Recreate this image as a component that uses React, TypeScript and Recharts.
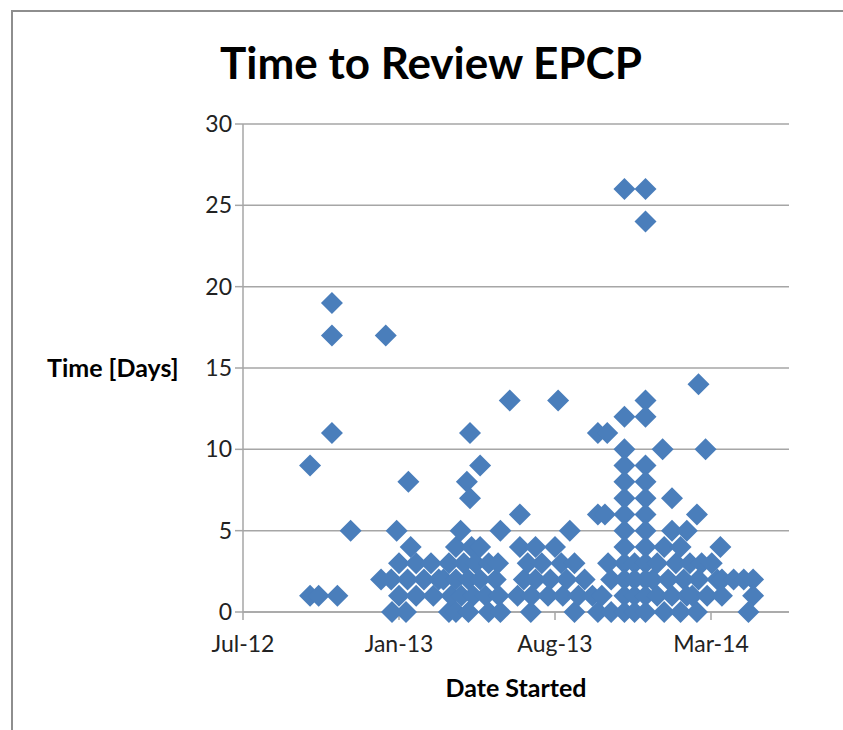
import { ScatterChart, Scatter, XAxis, YAxis, CartesianGrid } from "recharts";

// [date started as spreadsheet serial, days to review]
const late2012: [number, number][] = [
  [41186, 9], [41186, 1], [41197, 1], [41214, 19], [41214, 17], [41214, 11],
  [41221, 1], [41238, 5], [41283, 17], [41277, 2], [41290, 2], [41291, 0],
];

const early2013: [number, number][] = [
  [41297, 5], [41300, 3], [41300, 1], [41309, 0], [41311, 2], [41312, 8],
  [41315, 4], [41322, 3], [41322, 1], [41332, 2], [41341, 3], [41344, 1],
  [41351, 2], [41357, 2], [41364, 3], [41364, 0], [41367, 1], [41373, 4],
  [41373, 2], [41373, 0], [41379, 5], [41380, 1], [41383, 3], [41387, 8],
  [41389, 2], [41389, 0], [41391, 11], [41391, 7], [41393, 4], [41395, 1],
  [41398, 3], [41404, 9], [41404, 4], [41404, 2], [41411, 1], [41415, 3],
  [41415, 0], [41424, 2], [41427, 3], [41428, 1], [41430, 5], [41430, 0],
  [41442, 13],
];

const mid2013: [number, number][] = [
  [41452, 1], [41455, 6], [41455, 4], [41460, 2], [41465, 3], [41469, 0],
  [41470, 1], [41475, 4], [41475, 2], [41483, 3], [41491, 1], [41494, 2],
  [41500, 4], [41504, 13], [41508, 3], [41510, 1], [41515, 2], [41519, 5],
  [41525, 3], [41525, 0], [41530, 1], [41538, 2], [41548, 1], [41555, 11],
  [41555, 6], [41555, 0], [41560, 1], [41564, 6], [41567, 11], [41568, 3],
  [41572, 2], [41572, 0],
];

const late2013: [number, number][] = [
  [41589, 26], [41589, 12], [41589, 10], [41589, 9], [41589, 8], [41589, 7],
  [41589, 6], [41589, 5], [41589, 4], [41589, 3], [41589, 2], [41589, 1],
  [41589, 0], [41602, 3], [41602, 2], [41602, 1], [41602, 0], [41616, 26],
  [41616, 24], [41616, 13], [41616, 12], [41616, 9], [41616, 8], [41616, 7],
  [41616, 6], [41616, 5], [41616, 4], [41616, 3], [41616, 2], [41616, 1],
  [41616, 0], [41625, 2], [41631, 3], [41631, 1], [41638, 10], [41640, 4],
  [41640, 0], [41645, 2], [41650, 7], [41650, 5], [41650, 1], [41655, 3],
  [41661, 4], [41661, 0], [41665, 2], [41669, 5], [41669, 1], [41673, 3],
];

const early2014: [number, number][] = [
  [41676, 1], [41682, 6], [41682, 0], [41684, 14], [41684, 2], [41688, 3],
  [41693, 10], [41695, 1], [41701, 3], [41708, 2], [41712, 4], [41714, 2],
  [41714, 1], [41729, 2], [41742, 2], [41748, 0], [41754, 2], [41754, 1],
];

const dateTicks = [41100, 41300, 41500, 41700];
const dayTicks = [0, 5, 10, 15, 20, 25, 30];

const points = [...late2012, ...early2013, ...mid2013, ...late2013, ...early2014].map(
  ([started, days]) => ({ started, days })
);

const MONTHS = ["Jan", "Feb", "Mar", "Apr", "May", "Jun", "Jul", "Aug", "Sep", "Oct", "Nov", "Dec"];

function serialLabel(serial: number) {
  const d = new Date(Date.UTC(1899, 11, 30) + serial * 86400000);
  return `${MONTHS[d.getUTCMonth()]}-${String(d.getUTCFullYear()).slice(2)}`;
}

function Diamond(props: any) {
  const { cx, cy } = props;
  const r = 11;
  return (
    <path
      d={`M${cx},${cy - r}L${cx + r},${cy}L${cx},${cy + r}L${cx - r},${cy}Z`}
      fill="#4a7ebb"
    />
  );
}

const FONT = "Lato, 'Open Sans', sans-serif";
const GRID = "#a6a6a6";

export default function App() {
  return (
    <div
      style={{
        position: "absolute",
        left: 0,
        top: 0,
        width: 843,
        height: 730,
        background: "#fff",
        fontFamily: FONT,
        overflow: "hidden",
      }}
    >
      <div
        style={{
          position: "absolute",
          left: 11,
          top: 10,
          right: -4,
          bottom: -4,
          borderTop: "2px solid #8e8e8e",
          borderLeft: "2px solid #8e8e8e",
        }}
      />
      <div
        style={{
          position: "absolute",
          left: 0,
          top: 40,
          width: 862,
          textAlign: "center",
          fontSize: 44,
          fontWeight: 700,
          lineHeight: 1,
          color: "#000",
          whiteSpace: "nowrap",
        }}
      >
        Time to Review EPCP
      </div>
      <div style={{ position: "absolute", left: 0, top: 0 }}>
        <ScatterChart width={843} height={730} margin={{ top: 124, right: 54, bottom: 18, left: 0 }}>
          <CartesianGrid vertical={false} stroke={GRID} strokeWidth={1.5} />
          <XAxis
            type="number"
            dataKey="started"
            domain={[41100, 41800]}
            ticks={dateTicks}
            tickFormatter={serialLabel}
            height={100}
            stroke={GRID}
            strokeWidth={1.5}
            tickSize={8}
            tickMargin={16}
            tick={{ fill: "#222", fontSize: 23, fontFamily: FONT }}
            label={{
              value: "Date Started",
              position: "insideBottom",
              offset: 15,
              fill: "#000",
              fontSize: 25,
              fontWeight: 700,
              fontFamily: FONT,
            }}
          />
          <YAxis
            type="number"
            dataKey="days"
            domain={[0, 30]}
            ticks={dayTicks}
            width={243}
            stroke={GRID}
            strokeWidth={1.5}
            tickSize={8}
            tickMargin={3}
            tick={{ fill: "#222", fontSize: 23, fontFamily: FONT }}
            label={{
              value: "Time [Days]",
              position: "insideLeft",
              offset: 47,
              angle: 0,
              fill: "#000",
              fontSize: 25,
              fontWeight: 700,
              fontFamily: FONT,
            }}
          />
          <Scatter data={points} shape={<Diamond />} isAnimationActive={false} />
        </ScatterChart>
      </div>
    </div>
  );
}
